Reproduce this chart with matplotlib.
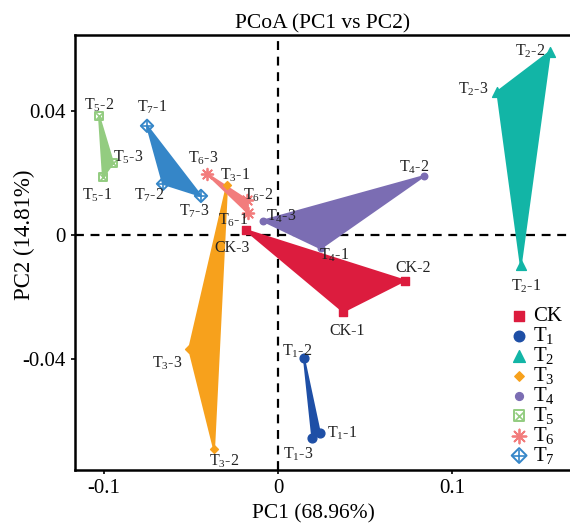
import numpy as np
import matplotlib
matplotlib.use("Agg")
import matplotlib.pyplot as plt
from matplotlib.legend_handler import HandlerTuple

plt.rcParams['font.family'] = ['Liberation Serif', 'DejaVu Serif']
plt.rcParams['mathtext.fontset'] = 'custom'
plt.rcParams['mathtext.rm'] = 'Liberation Serif'
plt.rcParams['mathtext.it'] = 'Liberation Serif'

# sample scores, three replicates per group (replicate order 1, 2, 3)
groups = ["CK", "T1", "T2", "T3", "T4", "T5", "T6", "T7"]
pc1 = [
    [0.0375, 0.0728, -0.0186],
    [0.0241, 0.0149, 0.0197],
    [0.1395, 0.1563, 0.1260],
    [-0.0293, -0.0368, -0.0511],
    [0.0245, 0.0839, -0.0088],
    [-0.1006, -0.1029, -0.0948],
    [-0.0172, -0.0178, -0.0408],
    [-0.0753, -0.0661, -0.0443],
]
pc2 = [
    [-0.0247, -0.0147, 0.0016],
    [-0.0640, -0.0398, -0.0654],
    [-0.0097, 0.0591, 0.0462],
    [0.0161, -0.0690, -0.0368],
    [-0.0043, 0.0190, 0.0046],
    [0.0187, 0.0384, 0.0232],
    [0.0071, 0.0113, 0.0197],
    [0.0352, 0.0165, 0.0126],
]
colors = ["#DC1C3E", "#1E4FA6", "#12B5A6", "#F7A11C",
          "#7B6DB3", "#93CC80", "#F27C7C", "#3586C8"]

# label offsets in points (dx, dy, ha)
offsets = [
    [(3, -14, 'center'), (6, 9, 'center'), (-10, -13, 'center')],
    [(5, 0, 'left'), (-5, 5, 'center'), (-10, -12, 'center')],
    [(4, -15, 'center'), (-3, 0, 'right'), (-6, 2, 'right')],
    [(6, 7, 'center'), (7, -9, 'center'), (-5, -10, 'right')],
    [(10, -5, 'center'), (-7, 6, 'center'), (2, 3, 'left')],
    [(-4, -13, 'center'), (0, 8, 'center'), (0, 4, 'left')],
    [(-11, -5, 'center'), (8, 3, 'center'), (-3, 11, 'center')],
    [(4, 13, 'center'), (-10, -8, 'center'), (-5, -11, 'center')],
]


def sub_label(g):
    if g == "CK":
        return "CK"
    return "T$_{%s}$" % g[1:]


fig = plt.figure(figsize=(5.7, 5.26), dpi=100)
ax = fig.add_axes([75 / 570, 56 / 526, 1 - 75 / 570, 435 / 526])

ax.axvline(0, color='black', ls=(0, (4, 3)), lw=1.6, zorder=1)
ax.axhline(0, color='black', ls=(0, (4, 3)), lw=1.6, zorder=1)

handles = []
for i, g in enumerate(groups):
    c = colors[i]
    ax.fill(pc1[i], pc2[i], color=c, ec=c, lw=1.5, zorder=2)
    if g == "CK":
        h = ax.scatter(pc1[i], pc2[i], marker='s', s=40, color=c, zorder=3)
    elif g == "T1":
        h = ax.scatter(pc1[i], pc2[i], marker='o', s=40, color=c, zorder=3)
    elif g == "T2":
        h = ax.scatter(pc1[i], pc2[i], marker='^', s=50, color=c, zorder=3)
    elif g == "T3":
        h = ax.scatter(pc1[i], pc2[i], marker='D', s=16, color=c, zorder=3)
    elif g == "T4":
        h = ax.scatter(pc1[i], pc2[i], marker='o', s=22, color=c, zorder=3)
    elif g == "T5":
        h1 = ax.scatter(pc1[i], pc2[i], marker='s', s=40, facecolor='none',
                        edgecolor=c, lw=1.4, zorder=3)
        h2 = ax.scatter(pc1[i], pc2[i], marker='x', s=22, color=c, lw=1.2, zorder=3)
        h = (h1, h2)
    elif g == "T6":
        h = ax.scatter(pc1[i], pc2[i], marker=(8, 2, 0), s=70, color=c,
                       lw=1.3, zorder=3)
    else:
        h1 = ax.scatter(pc1[i], pc2[i], marker='D', s=40, facecolor='none',
                        edgecolor=c, lw=1.4, zorder=3)
        h2 = ax.scatter(pc1[i], pc2[i], marker='+', s=50, color=c, lw=1.2, zorder=3)
        h = (h1, h2)
    handles.append(h)
    for k in range(3):
        dx, dy, ha = offsets[i][k]
        ax.annotate("%s-%d" % (sub_label(g), k + 1), (pc1[i][k], pc2[i][k]),
                    xytext=(dx, dy), textcoords='offset points', ha=ha,
                    va='center', fontsize=11.5, color='#222222', zorder=4)

ax.set_xlim(-0.1167, 0.1678)
ax.set_ylim(-0.0758, 0.0645)
ax.set_xticks([-0.1, 0, 0.1])
ax.set_xticklabels(["-0.1", "0", "0.1"])
ax.set_yticks([-0.04, 0, 0.04])
ax.set_yticklabels(["-0.04", "0", "0.04"])
ax.tick_params(labelsize=15, length=3, width=1.2, direction='out')
for s in ['left', 'bottom', 'top']:
    ax.spines[s].set_linewidth(1.8)
ax.spines['right'].set_visible(False)

ax.set_title("PCoA (PC1 vs PC2)", fontsize=15.5, pad=5)
ax.set_xlabel("PC1 (68.96%)", fontsize=15.5)
ax.set_ylabel("PC2 (14.81%)", fontsize=16.5)
ax.xaxis.set_label_coords(0.481, -0.078)
ax.yaxis.set_label_coords(-0.08, 0.54)

ax.legend(handles, [sub_label(g) for g in groups], loc='lower right',
          bbox_to_anchor=(1.0, -0.01), frameon=False, fontsize=15,
          handlelength=0.7, handletextpad=0.3, labelspacing=-0.05,
          borderaxespad=0.0, markerscale=1.2,
          handler_map={tuple: HandlerTuple(ndivide=1, pad=0)})

fig.savefig("out.png", dpi=100)
